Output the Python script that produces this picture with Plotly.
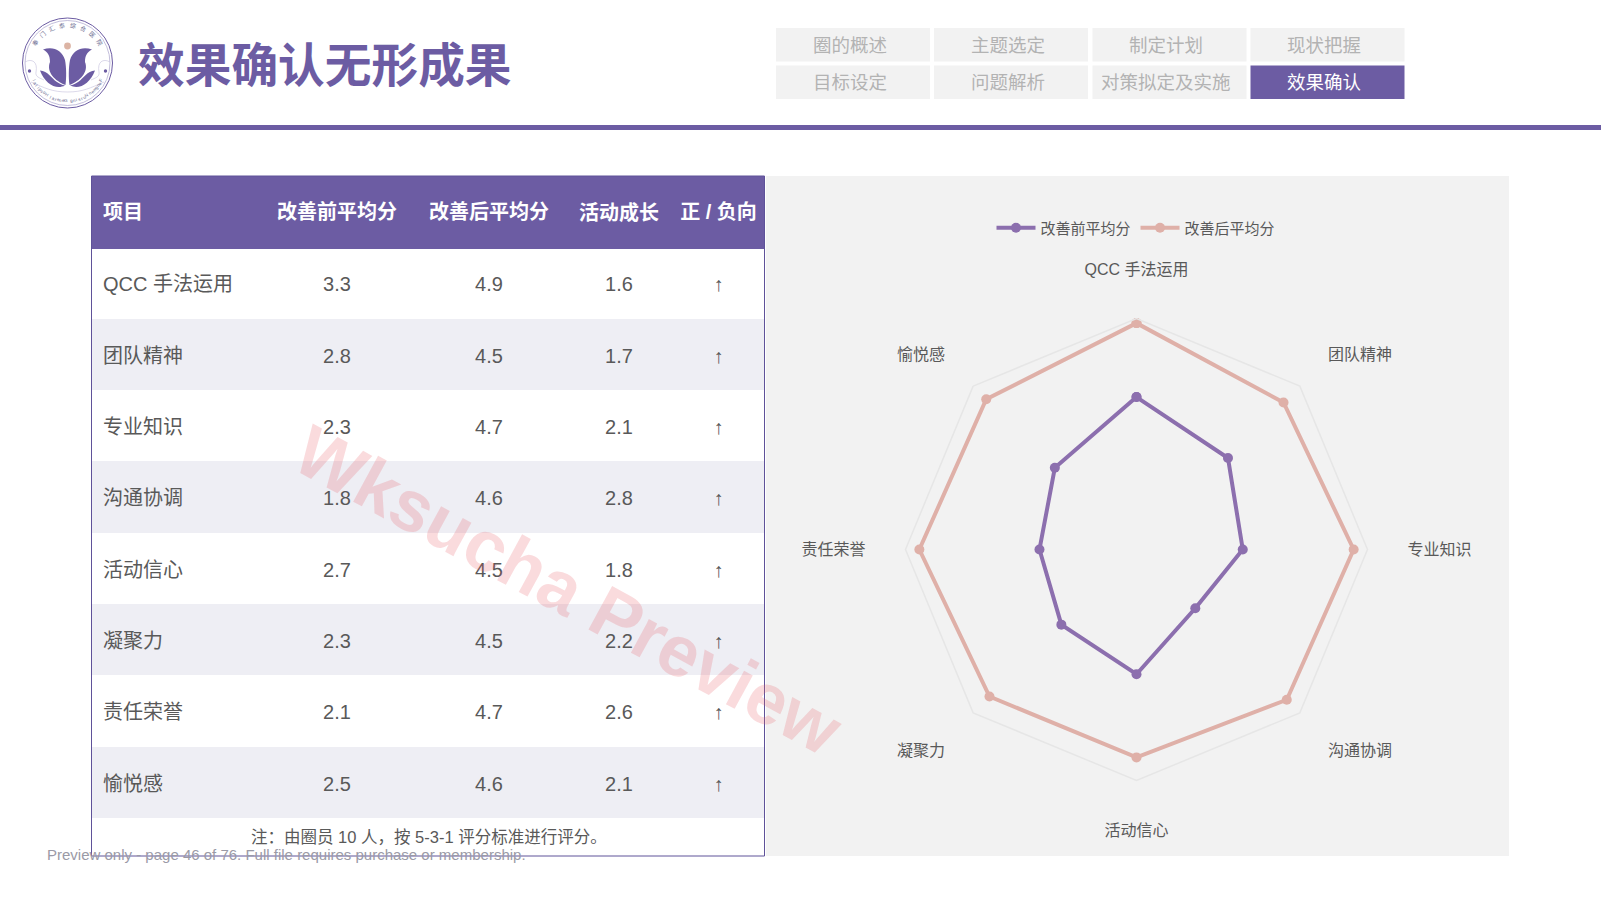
# -*- coding: utf-8 -*-
import math
import plotly.graph_objs as go

W = 1601
H = 900
PURPLE = "#6c5ca3"
FONT = "Liberation Sans, Noto Sans CJK SC"

# data
items = ["QCC 手法运用", "团队精神", "专业知识", "沟通协调", "活动信心", "凝聚力", "责任荣誉", "愉悦感"]
before = [3.3, 2.8, 2.3, 1.8, 2.7, 2.3, 2.1, 2.5]
after = [4.9, 4.5, 4.7, 4.6, 4.5, 4.5, 4.7, 4.6]
growth = [1.6, 1.7, 2.1, 2.8, 1.8, 2.2, 2.6, 2.1]
direction = ["↑"] * 8
headers = ["项目", "改善前平均分", "改善后平均分", "活动成长", "正\u00a0/\u00a0负向"]
nav_labels = [["圈的概述", "主题选定", "制定计划", "现状把握"],
              ["目标设定", "问题解析", "对策拟定及实施", "效果确认"]]
title = "效果确认无形成果"
note = "注：由圈员 10 人，按 5-3-1 评分标准进行评分。"
preview = "Preview only - page 46 of 76. Full file requires purchase or membership."
watermark = "Wksucha Preview"
logo_top = "奉门汇泰综合医院"
logo_bottom = "Fengmen Nursing General Hospital"


def px(x):
    return x / W


def py(y):
    return 1 - y / H


def rect(x0, y0, x1, y1, fill, line=None, layer="below", width=1):
    return dict(type="rect", xref="paper", yref="paper", x0=px(x0), x1=px(x1), y0=py(y0), y1=py(y1),
                fillcolor=fill, line=dict(color=line, width=width if line else 0), layer=layer)


def circle(cx, cy, r, fill="rgba(0,0,0,0)", line=None, width=1):
    return dict(type="circle", xref="paper", yref="paper", x0=px(cx - r), x1=px(cx + r), y0=py(cy + r), y1=py(cy - r),
                fillcolor=fill, line=dict(color=line, width=width if line else 0), layer="below")


def path(points, fill="rgba(0,0,0,0)", line=None, width=1):
    # points = list of (cmd, x, y, x, y...) in page pixels
    s = ""
    for p in points:
        s += p[0]
        vals = p[1:]
        for i in range(0, len(vals), 2):
            s += " %.5f,%.5f " % (px(vals[i]), py(vals[i + 1]))
    return dict(type="path", xref="paper", yref="paper", path=s, fillcolor=fill,
                line=dict(color=line, width=width if line else 0), layer="below")


def mirror(points, cx=67.5):
    out = []
    for p in points:
        q = [p[0]]
        vals = p[1:]
        for i in range(0, len(vals), 2):
            q += [2 * cx - vals[i], vals[i + 1]]
        out.append(q)
    return out


def text(x, y, s, size, color, anchor="center", bold=False, angle=0, family=FONT):
    if bold:
        s = "<b>" + s + "</b>"
    return dict(xref="paper", yref="paper", x=px(x), y=py(y), text=s, showarrow=False, xanchor=anchor, yanchor="middle",
                font=dict(family=family, size=size, color=color), textangle=angle)


shapes = []
annots = []

# header
shapes.append(rect(0, 125, W, 130, PURPLE))
annots.append(text(135.5, 66, title, 46.7, PURPLE, anchor="left", bold=True))

nav_x = [776, 934, 1092.5, 1250.5]
nav_y = [28, 65.5]
for r, row in enumerate(nav_labels):
    for c, lab in enumerate(row):
        active = lab == "效果确认"
        shapes.append(rect(nav_x[c], nav_y[r], nav_x[c] + 154, nav_y[r] + 33.5, PURPLE if active else "#f2f2f2"))
        annots.append(text(nav_x[c] + 73.5, nav_y[r] + 17.5 - r * 0.5, lab, 18.5, "#ffffff" if active else "#b3b3b3"))

# logo
shapes.append(circle(67.5, 63, 45, line=PURPLE, width=1))
shapes.append(circle(67.5, 63, 42.5, line="#a9a2cc", width=0.7))
shapes.append(circle(67.5, 46, 3.4, fill="#dcb4a4"))
shapes.append(circle(29.5, 71, 1.7, fill=PURPLE))
shapes.append(circle(105.5, 71, 1.7, fill=PURPLE))
petal = [["M", 43, 49.5], ["C", 53, 46, 62, 50, 65, 60], ["C", 66.5, 68, 66.5, 78, 65.5, 85],
         ["C", 55, 81, 46, 72, 50, 62], ["C", 50, 56, 48, 52, 43, 49.5], ["Z"]]
leaf = [["M", 40, 70.5], ["C", 48, 71, 51, 78, 57, 82], ["C", 60, 84, 62, 85, 65, 85.5],
        ["C", 56, 90, 45, 84, 40, 70.5], ["Z"]]
ring = [["M", 25, 62], ["C", 32, 58, 38, 62, 36, 72], ["C", 35, 77, 40, 78, 44, 80]]
ring2 = [["M", 31, 82], ["C", 45, 88, 52, 92, 67.5, 92]]
for shp in [petal, leaf]:
    shapes.append(path(shp, fill=PURPLE))
    shapes.append(path(mirror(shp), fill=PURPLE))
for shp in [ring, ring2]:
    shapes.append(path(shp, line="#c4bfdc", width=0.6))
    shapes.append(path(mirror(shp), line="#c4bfdc", width=0.6))
for i, ch in enumerate(logo_top):
    a = -58 + i * 116 / (len(logo_top) - 1)
    annots.append(text(67.5 + 37.5 * math.sin(math.radians(a)), 63 - 37.5 * math.cos(math.radians(a)), ch, 6, "#6a6a90", angle=a))
for i, ch in enumerate(logo_bottom):
    a = 62 - i * 124 / (len(logo_bottom) - 1)
    annots.append(text(67.5 + 38 * math.sin(math.radians(a)), 63 + 38 * math.cos(math.radians(a)), ch, 4.5, "#6a6a90", angle=-a))

# panels behind the table and radar
shapes.append(rect(766, 176, 1509, 856, "#f2f2f2"))
shapes.append(rect(91.5, 176, 764.5, 856, "rgba(0,0,0,0)", line="#5f5299", layer="above", width=1))

row_fill = ["#ffffff" if i % 2 == 0 else "#eeeef4" for i in range(len(items))]
blank = [""] * len(items)
clear = "rgba(0,0,0,0)"

# the fills sit in one table, the text in a second one moved down so it lands mid-row
table_fill = go.Table(
    domain=dict(x=[px(91.5), px(764.5)], y=[py(818.5), py(176)]),
    header=dict(values=[""], height=72, fill_color=PURPLE, line_color=PURPLE),
    cells=dict(values=[blank], height=71.3, fill_color=[row_fill], line_color=[row_fill]),
)
table = go.Table(
    domain=dict(x=[px(95), px(764)], y=[py(839), py(193.4)]),
    columnwidth=[166, 152, 152, 108, 91],
    header=dict(values=["<b>" + h + "</b>" for h in headers], height=75, fill_color=clear,
                line_color=clear, align=["left", "center", "center", "center", "center"],
                font=dict(family=FONT, size=20, color="#ffffff")),
    cells=dict(values=[items, ["%.1f" % v for v in before], ["%.1f" % v for v in after],
                       ["%.1f" % v for v in growth], direction],
               height=71.3, fill_color=clear, line_color=clear,
               align=["left", "center", "center", "center", "center"],
               font=dict(family=FONT, size=20, color="#595959")),
)

radar_before = go.Scatterpolar(r=before + before[:1], theta=items + items[:1], name="改善前平均分", mode="lines+markers",
                               line=dict(color="#8c6fae", width=4), marker=dict(color="#8c6fae", size=10))
radar_after = go.Scatterpolar(r=after + after[:1], theta=items + items[:1], name="改善后平均分", mode="lines+markers",
                              line=dict(color="#dfb0a8", width=4), marker=dict(color="#dfb0a8", size=10))

annots.append(text(429, 837, note, 16.5, "#595959"))
annots.append(text(44.5, 854, preview, 15, "#9a9aa6", anchor="left"))
annots.append(text(568, 590, "<b>" + watermark + "</b>", 72, "rgba(230,90,100,0.22)", angle=28.5))

layout = go.Layout(
    width=W, height=H, autosize=False,
    margin=dict(l=0, r=0, t=0, b=0),
    paper_bgcolor="#ffffff", plot_bgcolor="rgba(0,0,0,0)",
    font=dict(family=FONT, color="#595959"),
    shapes=shapes, annotations=annots, showlegend=True,
    legend=dict(orientation="h", x=px(1136), xanchor="center", y=py(228), yanchor="middle",
                bgcolor="rgba(0,0,0,0)", itemwidth=39, font=dict(size=15, color="#595959", family=FONT),
                itemclick=False),
    polar=dict(
        domain=dict(x=[px(1136.5 - 231), px(1136.5 + 231)], y=[py(549.5 + 231), py(549.5 - 231)]),
        bgcolor="rgba(0,0,0,0)", gridshape="linear",
        radialaxis=dict(range=[0, 5], showgrid=False, showline=False, showticklabels=False, ticks=""),
        angularaxis=dict(direction="clockwise", rotation=90, showgrid=False, showline=True, linecolor="#e6e6e6",
                         linewidth=1.5, ticks="outside", ticklen=36, tickcolor="rgba(0,0,0,0)",
                         categoryorder="array", categoryarray=items,
                         tickfont=dict(family=FONT, size=16, color="#595959")),
    ),
)

fig = go.Figure(data=[table_fill, table, radar_before, radar_after], layout=layout)
fig.write_html("out.html", config=dict(displayModeBar=False),
               post_script="document.body.style.margin='0';document.body.style.overflow='hidden';")
